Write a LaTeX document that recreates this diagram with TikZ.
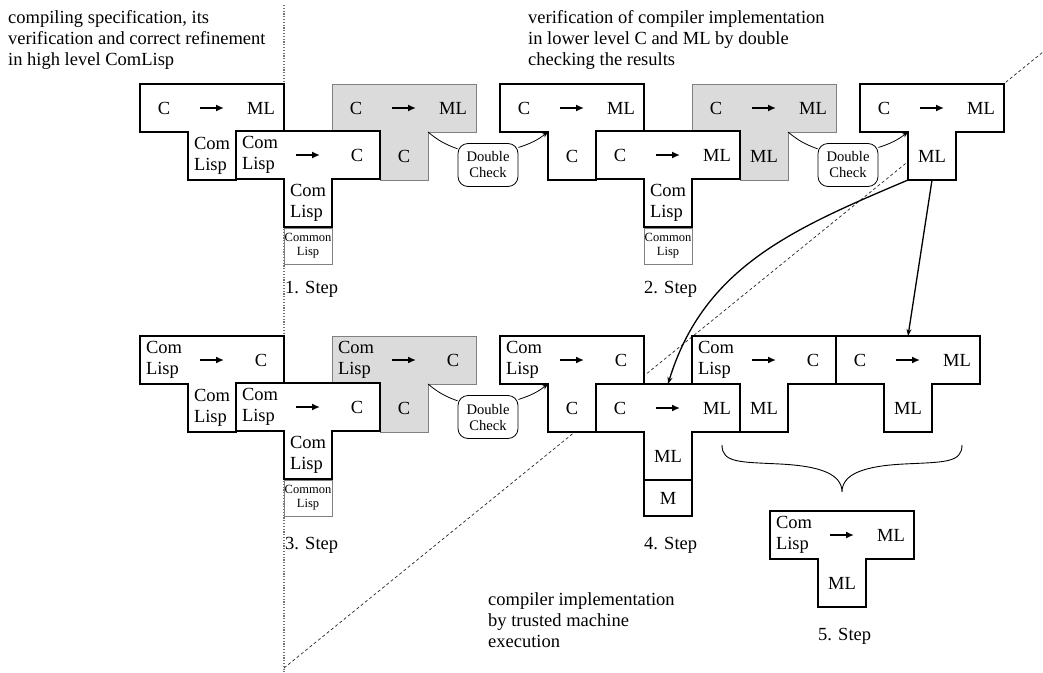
\documentclass[tikz,border=0pt]{standalone}
\usepackage{fontspec}
\setmainfont{Liberation Serif}
\usetikzlibrary{arrows.meta}
\tikzset{
 tshape/.style={draw=black, line width=2.4pt, fill=white, line join=miter},
 tgray/.style={draw=black!50, line width=1pt, fill=black!14},
 lbl/.style={font=\fontsize{18.5}{21}\selectfont, align=left, inner sep=0pt},
 tarr/.style={line width=2pt, -{Latex[length=8pt,width=7pt]}},
 clbox/.style={draw=black!50, line width=1pt, fill=white, minimum width=48pt, minimum height=36pt, inner sep=0pt, font=\fontsize{12.5}{14}\selectfont, align=center},
 mbox/.style={draw=black, line width=2.4pt, fill=white, minimum width=48pt, minimum height=36pt, inner sep=0pt, font=\fontsize{18.5}{21}\selectfont},
 dcheck/.style={draw=black, line width=0.8pt, rounded corners=10pt, minimum width=60pt, minimum height=43pt, inner sep=0pt, align=center, font=\fontsize{14.6}{16}\selectfont, fill=white},
 para/.style={font=\fontsize{18.5}{21}\selectfont, align=left, inner sep=0pt, anchor=north west},
 steplbl/.style={font=\fontsize{18.5}{21}\selectfont, inner sep=0pt, anchor=base west},
 conn/.style={line width=0.8pt},
 conarr/.style={line width=0.8pt, -{Stealth[length=6pt,width=4.5pt]}},
 bigarr/.style={line width=1.3pt, -{Stealth[length=7pt,width=5pt]}},
 vline/.style={draw=black!55, line width=1.2pt, dash pattern=on 1.2pt off 1.6pt},
 dline/.style={draw=black!85, line width=0.7pt, dash pattern=on 3pt off 2.5pt},
}
% name, x, y, style, source, target, implementation
\newcommand{\Tdiag}[7]{%
 \path[#4] (#2,#3) -- ++(144,0) -- ++(0,48) -- ++(-48,0) -- ++(0,48) -- ++(-48,0) -- ++(0,-48) -- ++(-48,0) -- cycle;
 \coordinate (#1-c) at (#2+48,#3+48);
 \coordinate (#1-d) at (#2+96,#3+48);
 \coordinate (#1-b) at (#2+48,#3+96);
 \coordinate (#1-bm) at (#2+72,#3+96);
 \coordinate (#1-top) at (#2+72,#3);
 \coordinate (#1-a1) at (#2+60,#3+24);
 \coordinate (#1-a2) at (#2+84,#3+24);
 \node[lbl] (#1-s) at (#2+24,#3+24) {#5};
 \node[lbl] (#1-t) at (#2+121,#3+24) {#6};
 \node[lbl] (#1-i) at (#2+72,#3+72) {#7};
 \draw[tarr] (#1-a1) -- (#1-a2);
}
\begin{document}
\begin{tikzpicture}[x=1pt,y=-1pt]
\useasboundingbox (0,0) rectangle (1043,672);
% separating lines
\coordinate (vtop) at (284,5);
\coordinate (vbot) at (284,672);
\coordinate (dstart) at (284,668);
\coordinate (dend) at (1043,52);
\draw[vline] (vtop) -- (vbot);
\draw[dline] (dstart) -- (dend);

% gray T diagrams
\Tdiag{g1}{332}{84}{tgray}{C}{ML}{C}
\Tdiag{g2}{692}{84}{tgray}{C}{ML}{ML}
\Tdiag{g3}{332}{336}{tgray}{Com\\Lisp}{C}{C}

% Common Lisp / machine boxes
\node[clbox] (cl1) at (308,246) {Common\\Lisp};
\node[clbox] (cl2) at (668,246) {Common\\Lisp};
\node[clbox] (cl3) at (308,498) {Common\\Lisp};

% step 1
\Tdiag{a1}{140}{84}{tshape}{C}{ML}{Com\\Lisp}
\Tdiag{b1}{236}{131}{tshape}{Com\\Lisp}{C}{Com\\Lisp}
% step 2
\Tdiag{a2}{500}{84}{tshape}{C}{ML}{C}
\Tdiag{b2}{596}{131}{tshape}{C}{ML}{Com\\Lisp}
\Tdiag{c2}{860}{84}{tshape}{C}{ML}{ML}
% step 3
\Tdiag{a3}{140}{336}{tshape}{Com\\Lisp}{C}{Com\\Lisp}
\Tdiag{b3}{236}{383}{tshape}{Com\\Lisp}{C}{Com\\Lisp}
% step 4
\Tdiag{a4}{500}{336}{tshape}{Com\\Lisp}{C}{C}
\Tdiag{b4}{596}{384}{tshape}{C}{ML}{ML}
\node[mbox] (m4) at (668,498) {M};
\Tdiag{c4}{692}{336}{tshape}{Com\\Lisp}{C}{ML}
\Tdiag{d4}{836}{336}{tshape}{C}{ML}{ML}
% step 5
\Tdiag{a5}{770}{511}{tshape}{Com\\Lisp}{ML}{ML}

% double checks
\node[dcheck] (dc1) at (488,165) {Double\\Check};
\node[dcheck] (dc2) at (848,165) {Double\\Check};
\node[dcheck] (dc3) at (488,417) {Double\\Check};
\draw[conn] (g1-d) to[bend right=10] (dc1.152);
\draw[conarr] (dc1.30) to[bend right=10] (a2-c);
\draw[conn] (g2-d) to[bend right=10] (dc2.152);
\draw[conarr] (dc2.30) to[bend right=10] (c2-c);
\draw[conn] (g3-d) to[bend right=10] (dc3.152);
\draw[conarr] (dc3.30) to[bend right=10] (a4-c);

% arrows from step 2 result
\draw[bigarr] (c2-b) .. controls +(-113,48) and +(36,-118) .. (b4-top);
\draw[bigarr] (c2-bm) -- (d4-top);

% brace
\coordinate (brl) at (722,445);
\coordinate (brr) at (962,445);
\coordinate (brt) at (842,492);
\coordinate (brm1) at (780,464);
\coordinate (brm2) at (904,464);
\draw[line width=0.9pt] (brl) .. controls +(0,18) and +(-40,-2) .. (brm1) .. controls +(40,2) and +(0,-18) .. (brt)
  .. controls +(0,-18) and +(-40,2) .. (brm2) .. controls +(40,-2) and +(0,18) .. (brr);

% step labels
\node[steplbl] (st1) at (285,293) {1. Step};
\node[steplbl] (st2) at (644,293) {2. Step};
\node[steplbl] (st3) at (285,549) {3. Step};
\node[steplbl] (st4) at (644,549) {4. Step};
\node[steplbl] (st5) at (818,640) {5. Step};

% explanatory texts
\node[para] (txt1) at (8,10) {compiling specification, its\\verification and correct refinement\\in high level ComLisp};
\node[para] (txt2) at (528,10) {verification of compiler implementation\\in lower level C and ML by double\\checking the results};
\node[para] (txt3) at (488,592) {compiler implementation\\by trusted machine\\execution};
\end{tikzpicture}
\end{document}
